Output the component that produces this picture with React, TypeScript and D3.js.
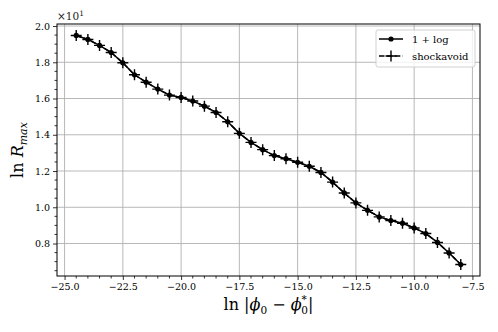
import React, { useEffect, useRef } from 'react';
import * as d3 from 'd3';

// ln|phi0 - phi0*| sample positions
const lnDelta = [
    -24.5, -24.0, -23.5, -23.0, -22.5, -22.0, -21.5, -21.0, -20.5, -20.0, -19.5, -19.0, -18.5, -18.0, -17.5, -17.0,
    -16.5, -16.0, -15.5, -15.0, -14.5, -14.0, -13.5, -13.0, -12.5, -12.0, -11.5, -11.0, -10.5, -10.0, -9.5, -9.0,
    -8.5, -8.0,
];

// ln R_max for the "1 + log" run
const lnRmaxLog = [
    19.48, 19.26, 18.93, 18.54, 17.97, 17.31, 16.9, 16.52, 16.19, 16.06, 15.86, 15.58, 15.23, 14.72, 14.08, 13.58,
    13.18, 12.85, 12.68, 12.48, 12.26, 11.92, 11.39, 10.79, 10.24, 9.83, 9.47, 9.27, 9.12, 8.86, 8.55, 8.06, 7.48,
    6.84,
];

// ln R_max for the "shockavoid" run (lies on top of the other one)
const lnRmaxShock = [
    19.48, 19.26, 18.93, 18.54, 17.97, 17.31, 16.9, 16.52, 16.19, 16.06, 15.86, 15.58, 15.23, 14.72, 14.08, 13.58,
    13.18, 12.85, 12.68, 12.48, 12.26, 11.92, 11.39, 10.79, 10.24, 9.83, 9.47, 9.27, 9.12, 8.86, 8.55, 8.06, 7.48,
    6.84,
];

const xTicks = [-25.0, -22.5, -20.0, -17.5, -15.0, -12.5, -10.0, -7.5];
const yTicks = [8, 10, 12, 14, 16, 18, 20];
const legendLabels = ['1 + log', 'shockavoid'];

const W = 498;
const H = 332;
const FONT = '"DejaVu Serif", serif';

export default function App() {
    const ref = useRef<SVGSVGElement>(null);

    useEffect(() => {
        const svg = d3.select(ref.current);
        svg.selectAll('*').remove();

        const margin = { top: 24, right: 18, bottom: 56, left: 57 };
        const left = margin.left;
        const right = W - margin.right;
        const top = margin.top;
        const bottom = H - margin.bottom;

        // matplotlib-style 5% margins around the data
        const [x0, x1] = d3.extent(lnDelta) as [number, number];
        const allY = lnRmaxLog.concat(lnRmaxShock);
        const [y0, y1] = d3.extent(allY) as [number, number];
        const xPad = (x1 - x0) * 0.05;
        const yPad = (y1 - y0) * 0.05;

        const xScale = d3.scaleLinear().domain([x0 - xPad, x1 + xPad]).range([left, right]);
        const yScale = d3.scaleLinear().domain([y0 - yPad, y1 + yPad]).range([bottom, top]);

        const minus = (s: string) => s.replace('-', '\u2212');

        // grid
        const grid = svg.append('g');
        xTicks.forEach((t) => {
            grid.append('line')
                .attr('x1', xScale(t)).attr('x2', xScale(t))
                .attr('y1', top).attr('y2', bottom)
                .attr('stroke', '#b0b0b0').attr('stroke-width', 0.9);
        });
        yTicks.forEach((t) => {
            grid.append('line')
                .attr('x1', left).attr('x2', right)
                .attr('y1', yScale(t)).attr('y2', yScale(t))
                .attr('stroke', '#b0b0b0').attr('stroke-width', 0.9);
        });

        // x axis
        const xAxis = d3
            .axisBottom(xScale)
            .tickValues(xTicks)
            .tickSize(4)
            .tickPadding(3)
            .tickFormat((d) => minus(d3.format('.1f')(d as number)));
        const gX = svg.append('g').attr('transform', `translate(0,${bottom})`).call(xAxis);
        const xMinor = d3.range(-25, -7.4, 0.5).filter((v) => !xTicks.some((t) => Math.abs(t - v) < 1e-6));
        gX.selectAll('.minor')
            .data(xMinor)
            .enter()
            .append('line')
            .attr('x1', (d) => xScale(d)).attr('x2', (d) => xScale(d))
            .attr('y1', 0).attr('y2', 2.5)
            .attr('stroke', 'black').attr('stroke-width', 0.8);

        // y axis
        const yAxis = d3
            .axisLeft(yScale)
            .tickValues(yTicks)
            .tickSize(4)
            .tickPadding(3)
            .tickFormat((d) => d3.format('.1f')((d as number) / 10));
        const gY = svg.append('g').attr('transform', `translate(${left},0)`).call(yAxis);
        const yMinor = d3.range(6.5, 20.01, 0.5).filter((v) => !yTicks.some((t) => Math.abs(t - v) < 1e-6));
        gY.selectAll('.minor')
            .data(yMinor)
            .enter()
            .append('line')
            .attr('x1', 0).attr('x2', -2.5)
            .attr('y1', (d) => yScale(d)).attr('y2', (d) => yScale(d))
            .attr('stroke', 'black').attr('stroke-width', 0.8);

        [gX, gY].forEach((g) => {
            g.select('.domain').remove();
            g.selectAll('.tick line').attr('stroke', 'black').attr('stroke-width', 0.8);
            g.selectAll('.tick text').attr('font-family', FONT).attr('font-size', 9.5).attr('fill', 'black');
        });

        // frame
        svg.append('rect')
            .attr('x', left).attr('y', top)
            .attr('width', right - left).attr('height', bottom - top)
            .attr('fill', 'none').attr('stroke', 'black').attr('stroke-width', 1);

        // data
        const line = d3
            .line<number>()
            .x((d, i) => xScale(lnDelta[i]))
            .y((d) => yScale(d));

        const plusPath = (cx: number, cy: number, s: number) =>
            `M${cx - s},${cy}L${cx + s},${cy}M${cx},${cy - s}L${cx},${cy + s}`;

        svg.append('path')
            .attr('d', line(lnRmaxShock))
            .attr('fill', 'none').attr('stroke', 'black').attr('stroke-width', 1.5)
            .attr('stroke-dasharray', '5.5,2.4');
        svg.append('g')
            .selectAll('path')
            .data(lnRmaxShock)
            .enter()
            .append('path')
            .attr('d', (d, i) => plusPath(xScale(lnDelta[i]), yScale(d), 5.5))
            .attr('stroke', 'black').attr('stroke-width', 1.4);

        svg.append('path')
            .attr('d', line(lnRmaxLog))
            .attr('fill', 'none').attr('stroke', 'black').attr('stroke-width', 1.5);
        svg.append('g')
            .selectAll('circle')
            .data(lnRmaxLog)
            .enter()
            .append('circle')
            .attr('cx', (d, i) => xScale(lnDelta[i]))
            .attr('cy', (d) => yScale(d))
            .attr('r', 2.6)
            .attr('fill', 'black');

        // offset text
        const off = svg.append('text')
            .attr('x', left).attr('y', 20)
            .attr('font-family', FONT).attr('font-size', 10.5).attr('fill', '#222');
        off.append('tspan').text('\u00d710');
        off.append('tspan').attr('dy', -4).attr('font-size', 7.5).text('1');

        // legend
        const lg = svg.append('g');
        lg.append('rect')
            .attr('x', 376).attr('y', 30).attr('width', 99).attr('height', 37).attr('rx', 2)
            .attr('fill', 'white').attr('fill-opacity', 0.8)
            .attr('stroke', '#cccccc').attr('stroke-width', 0.9);
        const rows = [39, 56];
        lg.append('line')
            .attr('x1', 379).attr('x2', 403).attr('y1', rows[0]).attr('y2', rows[0])
            .attr('stroke', 'black').attr('stroke-width', 1.5);
        lg.append('circle').attr('cx', 391).attr('cy', rows[0]).attr('r', 2.6).attr('fill', 'black');
        lg.append('line')
            .attr('x1', 379).attr('x2', 403).attr('y1', rows[1]).attr('y2', rows[1])
            .attr('stroke', 'black').attr('stroke-width', 1.5).attr('stroke-dasharray', '5.5,2.4');
        lg.append('path').attr('d', plusPath(391, rows[1], 5.5)).attr('stroke', 'black').attr('stroke-width', 1.4);
        legendLabels.forEach((label, i) => {
            lg.append('text')
                .attr('x', 412).attr('y', rows[i] + 3.5)
                .attr('font-family', FONT).attr('font-size', 10).attr('fill', 'black')
                .text(label);
        });

        // x label: ln |phi_0 - phi_0^*|
        const xl = svg.append('text')
            .attr('x', (left + right) / 2).attr('y', 310)
            .attr('text-anchor', 'middle')
            .attr('font-family', FONT).attr('font-size', 16).attr('fill', 'black');
        xl.append('tspan').text('ln |');
        xl.append('tspan').attr('font-style', 'italic').text('\u03d5');
        xl.append('tspan').attr('font-size', 10.5).attr('dy', 4).text('0');
        xl.append('tspan').attr('dy', -4).text(' \u2212 ');
        xl.append('tspan').attr('font-style', 'italic').text('\u03d5');
        xl.append('tspan').attr('font-size', 10.5).attr('dy', -7).text('*');
        xl.append('tspan').attr('font-size', 10.5).attr('dx', -5.5).attr('dy', 11).text('0');
        xl.append('tspan').attr('dy', -4).text('|');

        // y label: ln R_max
        const yl = svg.append('text')
            .attr('transform', `translate(23,${(top + bottom) / 2}) rotate(-90)`)
            .attr('text-anchor', 'middle')
            .attr('font-family', FONT).attr('font-size', 16).attr('fill', 'black');
        yl.append('tspan').text('ln ');
        yl.append('tspan').attr('font-style', 'italic').text('R');
        yl.append('tspan').attr('font-style', 'italic').attr('font-size', 11).attr('dy', 4).text('max');
    }, []);

    return (
        <svg
            ref={ref}
            width={W}
            height={H}
            style={{ position: 'absolute', left: 0, top: 0, background: 'white' }}
        />
    );
}
